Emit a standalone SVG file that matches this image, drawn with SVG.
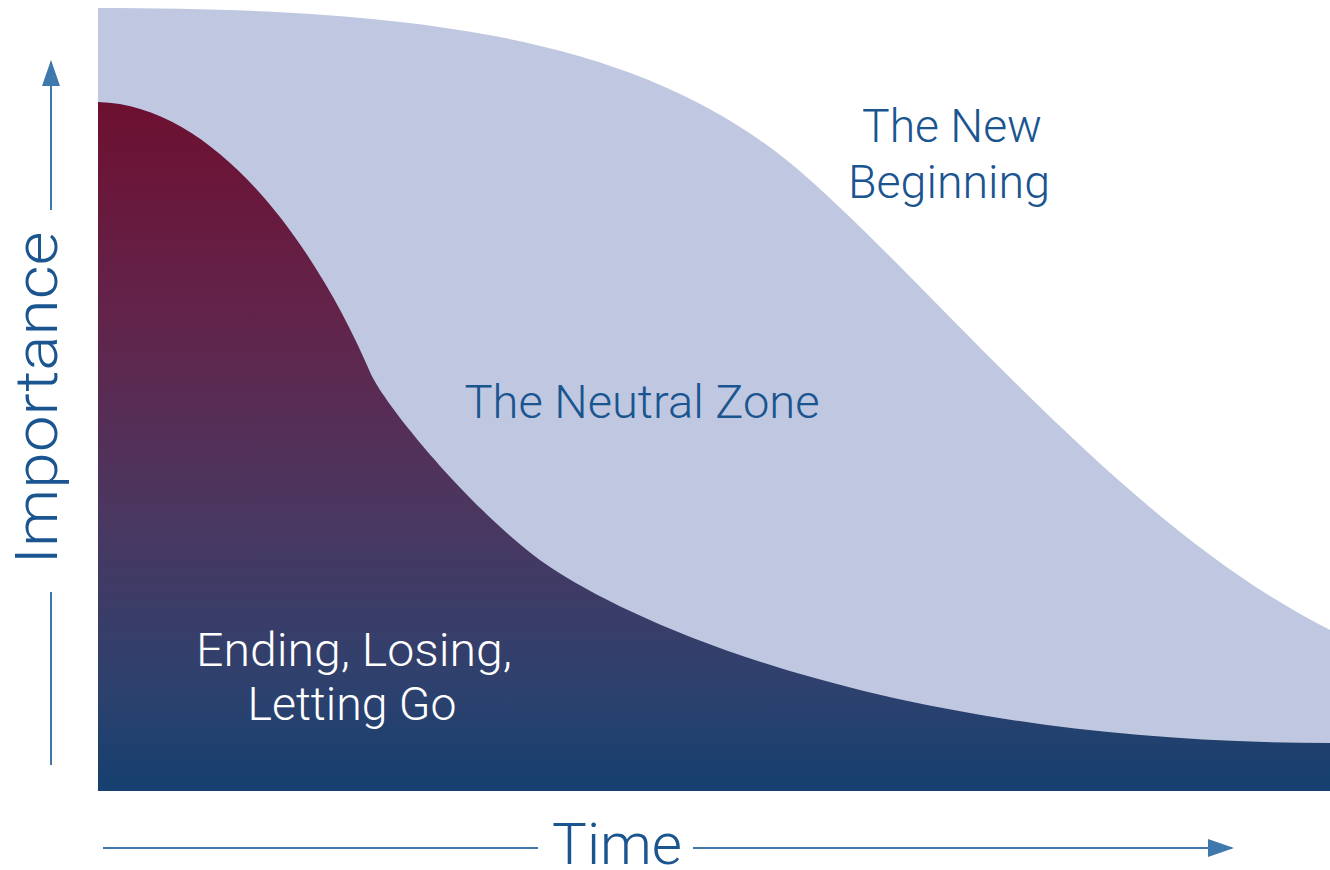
<svg xmlns="http://www.w3.org/2000/svg" width="1330" height="870" viewBox="0 0 1330 870">
<defs>
<linearGradient id="darkGrad" gradientUnits="userSpaceOnUse" x1="0" y1="102" x2="0" y2="791">
<stop offset="0" stop-color="#6d1030"/>
<stop offset="0.3" stop-color="#63234a"/>
<stop offset="0.6" stop-color="#4a3760"/>
<stop offset="0.85" stop-color="#2e416e"/>
<stop offset="1" stop-color="#15406f"/>
</linearGradient>
<marker id="arrow" viewBox="0 0 26 18" refX="24" refY="9" markerWidth="26" markerHeight="18" markerUnits="userSpaceOnUse" orient="auto">
<path d="M0,0 L26,9 L0,18 Z" fill="#3f78ad"/>
</marker>
<style>
.lbl{font-family:Roboto,"Liberation Sans",sans-serif;font-weight:300;}
.blue{fill:#1a5590;}
.white{fill:#ffffff;}
.axis{stroke:#3f78ad;stroke-width:2;fill:none;}
</style>
</defs>
<rect width="1330" height="870" fill="#ffffff"/>
<g id="new-beginning-area">
<path d="M98,8 C450,8 660,45 810,180 C950,305 1130,530 1330,630 L1330,791 L98,791 Z" fill="#c0c8e1"/>
</g>
<g id="ending-area">
<path d="M98,102 C220,105 320,255 370,372 C385,407 480,520 550,567 C640,627 900,743 1330,743 L1330,791 L98,791 Z" fill="url(#darkGrad)"/>
</g>
<g id="connectors">
<line class="axis" x1="51" y1="765" x2="51" y2="592"/>
<line class="axis" x1="51" y1="210" x2="51" y2="62" marker-end="url(#arrow)"/>
<line class="axis" x1="103" y1="848" x2="538" y2="848"/>
<line class="axis" x1="693" y1="848" x2="1232" y2="848" marker-end="url(#arrow)"/>
</g>
<g id="label-importance">
<text class="lbl blue" font-size="59" text-anchor="middle" transform="translate(57,398) rotate(-90)" textLength="333" lengthAdjust="spacingAndGlyphs">Importance</text>
</g>
<g id="label-time">
<text class="lbl blue" x="617" y="864" font-size="58" text-anchor="middle" textLength="130" lengthAdjust="spacingAndGlyphs">Time</text>
</g>
<g id="label-new-beginning">
<text class="lbl blue" x="952" y="142" font-size="46" text-anchor="middle" textLength="180" lengthAdjust="spacingAndGlyphs">The New</text>
<text class="lbl blue" x="949" y="198" font-size="46" text-anchor="middle" textLength="202" lengthAdjust="spacingAndGlyphs">Beginning</text>
</g>
<g id="label-neutral-zone">
<text class="lbl blue" x="642" y="418" font-size="46" text-anchor="middle" textLength="355" lengthAdjust="spacingAndGlyphs">The Neutral Zone</text>
</g>
<g id="label-ending">
<text class="lbl white" x="354" y="666" font-size="46" text-anchor="middle" textLength="316" lengthAdjust="spacingAndGlyphs">Ending, Losing,</text>
<text class="lbl white" x="352" y="720" font-size="46" text-anchor="middle" textLength="209" lengthAdjust="spacingAndGlyphs">Letting Go</text>
</g>
</svg>
